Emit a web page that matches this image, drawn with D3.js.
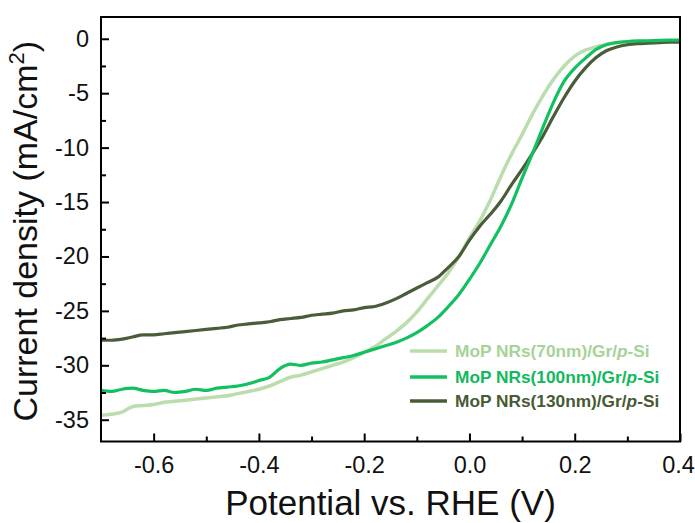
<!DOCTYPE html>
<html>
<head>
<meta charset="utf-8">
<script src="https://cdn.jsdelivr.net/npm/d3@7"></script>
<style>
  body { margin: 0; background: #fff; }
  svg { display: block; font-family: "Liberation Sans", Arial, sans-serif; }
</style>
</head>
<body>
<div id="chart"></div>
<script>
// potential grid (V vs RHE), step 0.02
const potential = d3.range(56).map(i => +(-0.70 + i * 0.02).toFixed(2));

// current density (mA/cm2)
const nr70 = [
  -34.6, -34.5, -34.3, -33.8, -33.7, -33.6, -33.4, -33.3, -33.2, -33.1,
  -33.0, -32.9, -32.8, -32.6, -32.4, -32.2, -31.9, -31.5, -31.1, -30.9,
  -30.6, -30.3, -30.0, -29.7, -29.3, -28.8, -28.3, -27.6, -26.9, -26.1,
  -25.1, -23.9, -22.7, -21.5, -20.0, -18.3, -16.7, -14.8, -12.6, -10.6,
  -8.8, -6.9, -5.2, -3.7, -2.5, -1.6, -1.05, -0.75, -0.5, -0.35,
  -0.3, -0.25, -0.22, -0.2, -0.2, -0.2
];
const nr100 = [
  -32.3, -32.4, -32.2, -32.1, -32.3, -32.4, -32.3, -32.5, -32.4, -32.2,
  -32.3, -32.1, -32.0, -31.9, -31.7, -31.4, -31.1, -30.3, -29.9, -30.0,
  -29.8, -29.7, -29.5, -29.3, -29.1, -28.8, -28.5, -28.2, -27.9, -27.5,
  -27.0, -26.35, -25.6, -24.6, -23.5, -22.1, -20.6, -18.9, -17.2, -15.2,
  -12.8, -10.5, -8.1, -5.8, -3.9, -2.7, -1.8, -1.0, -0.55, -0.35,
  -0.25, -0.2, -0.18, -0.15, -0.13, -0.12
];
const nr130 = [
  -27.7, -27.7, -27.6, -27.4, -27.2, -27.2, -27.1, -27.0, -26.9, -26.8,
  -26.7, -26.6, -26.5, -26.3, -26.2, -26.1, -26.0, -25.8, -25.7, -25.6,
  -25.4, -25.3, -25.2, -25.0, -24.9, -24.7, -24.6, -24.3, -23.9, -23.4,
  -22.9, -22.4, -21.9, -21.0, -20.0, -18.5, -17.2, -16.1, -14.9, -13.4,
  -12.0, -10.5, -8.9, -7.1, -5.4, -3.9, -2.7, -1.75, -1.1, -0.75,
  -0.55, -0.45, -0.4, -0.35, -0.3, -0.3
];

const seriesNames = ["MoP NRs(70nm)/Gr/", "MoP NRs(100nm)/Gr/", "MoP NRs(130nm)/Gr/"];
const seriesColors = ["#b9ddac", "#12c061", "#4a5c38"];
const labelColors = ["#a6d397", "#10b95b", "#475a34"];

const xTicks = [-0.6, -0.4, -0.2, 0.0, 0.2, 0.4];
const xMinor = [-0.5, -0.3, -0.1, 0.1, 0.3];
const yTicks = [0, -5, -10, -15, -20, -25, -30, -35];
const yMinor = [-2.5, -7.5, -12.5, -17.5, -22.5, -27.5, -32.5];

const W = 695, H = 523;
const plotL = 101, plotR = 680, plotT = 17, plotB = 441.5;

const x = d3.scaleLinear().domain([-0.7, 0.4]).range([plotL, plotR]);
const y = d3.scaleLinear().domain([-37, 2]).range([plotB, plotT]);

const svg = d3.select("#chart").append("svg")
  .attr("width", W)
  .attr("height", H);

svg.append("clipPath").attr("id", "plot")
  .append("rect")
  .attr("x", plotL).attr("y", plotT)
  .attr("width", plotR - plotL).attr("height", plotB - plotT);

// curves
const line = d3.line()
  .x(d => x(d[0]))
  .y(d => y(d[1]))
  .curve(d3.curveMonotoneX);

const series = [nr70, nr130, nr100];
const order = [0, 2, 1];
series.forEach((vals, k) => {
  const i = order[k];
  svg.append("path")
    .attr("clip-path", "url(#plot)")
    .attr("d", line(potential.map((p, j) => [p, vals[j]])))
    .attr("fill", "none")
    .attr("stroke", seriesColors[i])
    .attr("stroke-width", i === 0 ? 3.5 : 3.2)
    .attr("stroke-linejoin", "round");
});

// frame
svg.append("rect")
  .attr("x", plotL).attr("y", plotT)
  .attr("width", plotR - plotL).attr("height", plotB - plotT)
  .attr("fill", "none")
  .attr("stroke", "#000")
  .attr("stroke-width", 2);

const fmt = v => d3.format(".1f")(v).replace("−", "-");
const gx = svg.append("g")
  .attr("transform", `translate(0,${plotB})`)
  .call(d3.axisBottom(x).tickValues(xTicks).tickFormat(fmt)
    .tickSizeInner(-8).tickSizeOuter(0).tickPadding(15));
gx.append("g")
  .call(d3.axisBottom(x).tickValues(xMinor).tickFormat("")
    .tickSizeInner(-5).tickSizeOuter(0));
// keep the last label inside the page
gx.selectAll(".tick text").filter(d => d === 0.4).attr("dx", -2);

const gy = svg.append("g")
  .attr("transform", `translate(${plotL},0)`)
  .call(d3.axisLeft(y).tickValues(yTicks).tickFormat(v => String(v).replace("−", "-"))
    .tickSizeInner(-8).tickSizeOuter(0).tickPadding(12));
gy.append("g")
  .call(d3.axisLeft(y).tickValues(yMinor).tickFormat("")
    .tickSizeInner(-5).tickSizeOuter(0));

svg.selectAll(".domain").remove();
svg.selectAll(".tick line").attr("stroke", "#000").attr("stroke-width", 2);
svg.selectAll(".tick text")
  .attr("fill", "#111")
  .style("font-size", "23.5px")
  .style("font-family", "'Liberation Sans', Arial, sans-serif");

// axis titles
svg.append("text")
  .attr("x", (plotL + plotR) / 2)
  .attr("y", 515)
  .attr("text-anchor", "middle")
  .style("font-size", "35px")
  .attr("fill", "#111")
  .text("Potential vs. RHE (V)");

const yt = svg.append("text")
  .attr("transform", `translate(37,${(plotT + plotB) / 2 + 2}) rotate(-90)`)
  .attr("text-anchor", "middle")
  .style("font-size", "34px")
  .attr("fill", "#111");
yt.append("tspan").text("Current density (mA/cm");
yt.append("tspan").attr("dy", -13).style("font-size", "22px").text("2");
yt.append("tspan").attr("dy", 13).text(")");

// legend
const legendRows = [351, 377, 401];
seriesNames.forEach((name, i) => {
  const ly = legendRows[i];
  svg.append("line")
    .attr("x1", 410).attr("x2", 447)
    .attr("y1", ly).attr("y2", ly)
    .attr("stroke", seriesColors[i])
    .attr("stroke-width", 3.5);
  const t = svg.append("text")
    .attr("x", 455).attr("y", ly + 6)
    .style("font-size", "17.3px")
    .style("font-weight", "bold")
    .attr("fill", labelColors[i]);
  t.append("tspan").text(name);
  t.append("tspan").style("font-style", "italic").text("p");
  t.append("tspan").text("-Si");
});
</script>
</body>
</html>
